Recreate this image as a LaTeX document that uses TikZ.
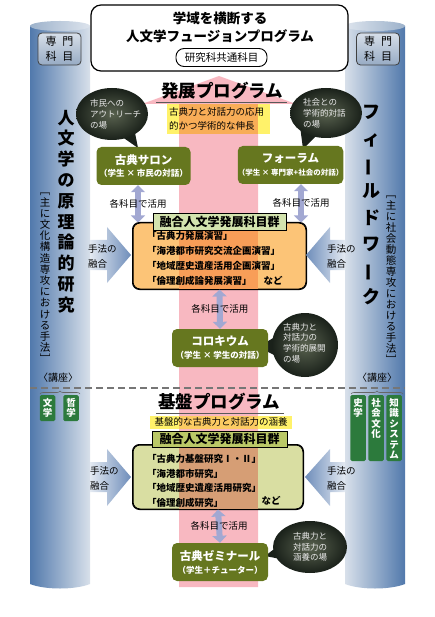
\documentclass[tikz,border=0pt]{standalone}
\usepackage{fontspec}
\setmainfont{Noto Sans CJK JP}
\usepackage{graphicx}
\usetikzlibrary{arrows.meta,decorations.pathreplacing}
\definecolor{coldark}{HTML}{5179AC}
\definecolor{collight}{HTML}{D8E0EA}
\definecolor{capdark}{HTML}{9DB2CB}
\definecolor{caplight}{HTML}{DDE4ED}
\definecolor{pinkarrow}{HTML}{F8B8C1}
\definecolor{olive}{HTML}{66771F}
\definecolor{bubin}{HTML}{59624F}
\definecolor{bubout}{HTML}{1A211A}
\definecolor{yel}{HTML}{FFF26A}
\definecolor{yelpink}{HTML}{F8AD57}
\definecolor{yelpinklow}{HTML}{FBCB62}
\definecolor{orgbox}{HTML}{FCC477}
\definecolor{orgpink}{HTML}{F89E58}
\definecolor{olvbox}{HTML}{D9DEA2}
\definecolor{olvpink}{HTML}{D69E75}
\definecolor{tabup}{HTML}{D3E3AE}
\definecolor{tablow}{HTML}{BAC867}
\definecolor{tagg}{HTML}{2C7A3C}
\definecolor{dblc}{HTML}{A2A8D2}
\definecolor{chevdark}{HTML}{6E8DBA}
\definecolor{chevlight}{HTML}{E4EAF2}
\definecolor{sepgray}{HTML}{767676}
\definecolor{sentop}{HTML}{D7DFE9}
\definecolor{senbot}{HTML}{97ABC4}
\newcommand\olvsub{\bfseries\fontsize{8.5}{10}\selectfont}
\tikzset{
  toptxt/.style={font=\bfseries\fontsize{13.5}{16}\selectfont, inner sep=0pt},
  senbox/.style={draw=black!75, line width=.8pt, rounded corners=4pt, top color=sentop, bottom color=senbot,
    minimum width=43pt, minimum height=32pt, align=center, inner sep=0pt, font=\fontsize{11}{15}\selectfont},
  head/.style={font=\bfseries\fontsize{17.5}{20}\selectfont, inner sep=0pt},
  olivebox/.style={fill=olive, rounded corners=5pt, minimum width=94pt, minimum height=38pt, text=white,
    font=\bfseries\fontsize{11.5}{15}\selectfont, align=center, inner sep=0pt},
  bubble/.style={inner color=bubin, outer color=bubout},
  bubtxt/.style={text=white!92!black, font=\fontsize{8.5}{11}\selectfont, align=left, inner sep=0pt},
  vbig/.style={font=\bfseries\fontsize{17}{20.8}\selectfont, align=center, inner sep=0pt},
  vsmall/.style={font=\fontsize{10.5}{11.2}\selectfont, align=center, inner sep=0pt},
  tag/.style={fill=tagg, rounded corners=1.5pt, minimum width=15.5pt, inner sep=0pt},
  tagtxt/.style={text=white, font=\bfseries\fontsize{9.5}{10.5}\selectfont, align=center, inner sep=0pt},
  dbl/.style={draw=dblc, line width=6pt, {Triangle[width=14pt,length=7pt]}-{Triangle[width=14pt,length=7pt]}},
  uselab/.style={font=\fontsize{9.5}{11}\selectfont, inner sep=1pt},
  listtxt/.style={font=\bfseries\fontsize{9.5}{15}\selectfont, align=left, inner sep=0pt, anchor=west},
  mixtxt/.style={font=\fontsize{9.5}{15}\selectfont, align=left, inner sep=0pt, anchor=west},
  lab/.style={font=\fontsize{10}{12}\selectfont, inner sep=0pt},
  tabbox/.style={draw, line width=1pt, minimum height=17pt, inner sep=0pt, font=\bfseries\fontsize{12}{14}\selectfont},
}
\begin{document}
\begin{tikzpicture}[x=1pt,y=-1pt]
  \useasboundingbox (0,0) rectangle (435,617);

  % side columns
  \shade[left color=coldark, right color=collight] (30,26) -- (30,584) .. controls (45,590) and (75,590) .. (90,584) -- (90,26) -- cycle;
  \shade[left color=capdark, right color=caplight] (60,26) ellipse [x radius=30pt, y radius=5pt];
  \shade[left color=collight, right color=coldark] (345,26) -- (345,584) .. controls (360,590) and (390,590) .. (405,584) -- (405,26) -- cycle;
  \shade[left color=caplight, right color=capdark] (375,26) ellipse [x radius=30pt, y radius=5pt];

  % pink arrow behind everything
  \fill[pinkarrow] (219,76) -- (296,104) -- (258,104) -- (258,587) -- (179,587) -- (179,104) -- (142,104) -- cycle;

  % top box
  \node[draw, line width=1.2pt, rounded corners=10pt, fill=white, minimum width=257pt, minimum height=66pt, inner sep=0pt] (topbox) at (219.5,38) {};
  \node[toptxt] (toptitle) at (220,18) {学域を横断する};
  \node[toptxt] (topname) at (220,36) {人文学フュージョンプログラム};
  \node[draw, line width=.9pt, rounded corners=8pt, minimum width=91pt, minimum height=18pt, inner sep=0pt,
    font=\fontsize{10.5}{12}\selectfont] (common) at (221.5,57.5) {研究科共通科目};

  \node[senbox] (senL) at (59.5,49) {専\hspace{6pt}門\\科\hspace{6pt}目};
  \node[senbox] (senR) at (378,49) {専\hspace{6pt}門\\科\hspace{6pt}目};

  % column texts
  \node[vbig] (leftname) at (66,211.5) {人\\文\\学\\の\\原\\理\\論\\的\\研\\究};
  \node[vsmall] (leftnote) at (45,275) {\rotatebox[origin=c]{-90}{［}\\主\\に\\文\\化\\構\\造\\専\\攻\\に\\お\\け\\る\\手\\法\\\rotatebox[origin=c]{-90}{］}};
  \node[vbig, font=\bfseries\fontsize{18}{26.3}\selectfont] (rightname) at (371,205) {フ\\ィ\\\rotatebox[origin=c]{90}{ー}\\ル\\ド\\ワ\\\rotatebox[origin=c]{90}{ー}\\ク};
  \node[vsmall, font=\fontsize{10.5}{11.07}\selectfont] (rightnote) at (391,277) {\rotatebox[origin=c]{-90}{［}\\主\\に\\社\\会\\動\\態\\専\\攻\\に\\お\\け\\る\\手\\法\\\rotatebox[origin=c]{-90}{］}};

  % development program
  \node[head] (devhead) at (222,91) {発展プログラム};
  \draw[black!65, line width=.8pt] (156,102) -- (287,102);
  \node[fill=yel, minimum width=103pt, minimum height=30pt, inner sep=0pt] (goalU) at (218.5,119) {};
  \fill[yelpink] (179,104) rectangle (258,134);
  \node[font=\fontsize{9.5}{14}\selectfont, align=left, inner sep=0pt, anchor=west] (goalUtxt) at (169,119) {古典力と対話力の応用\\的かつ学術的な伸長};

  % bubbles
  \fill[bubout] (118,134) -- (138,148) -- (134,128) -- cycle;
  \shade[bubble] (112,114) ellipse [x radius=36pt, y radius=26pt];
  \node[bubtxt, anchor=west] (bubsalon) at (90,114) {市民への\\アウトリーチ\\の場};
  \fill[bubout] (300,126) -- (303,149) -- (318,134) -- cycle;
  \shade[bubble] (326,113) ellipse [x radius=36pt, y radius=25pt];
  \node[bubtxt, anchor=west] (bubforum) at (303,113) {社会との\\学術的対話\\の場};

  % dialogue boxes
  \node[olivebox] (salon) at (143.5,166) {古典サロン\\[-2pt]{\olvsub （学生 × 市民の対話）}};
  \node[olivebox] (forum) at (290.5,165) {フォーラム\\[-2pt]{\olvsub\fontsize{7.5}{9}\selectfont （学生 × 専門家+社会の対話）}};

  % fusion courses (development)
  \node[draw, line width=1pt, fill=orgbox, rounded corners=7pt, minimum width=173pt, minimum height=66pt, inner sep=0pt] (fusionU) at (219.5,256) {};
  \begin{scope}
    \clip[rounded corners=7pt] (fusionU.north west) rectangle (fusionU.south east);
    \fill[orgpink] (179,200) rectangle (258,300);
  \end{scope}
  \draw[line width=1pt, rounded corners=7pt] (fusionU.north west) rectangle (fusionU.south east);
  \node[tabbox, fill=tabup, minimum width=133pt] (tabU) at (219.5,222) {融合人文学発展科目群};
  \node[listtxt] (listU) at (147,258.5) {「古典力発展演習」\\「海港都市研究交流企画演習」\\「地域歴史遺産活用企画演習」\\「倫理創成論発展演習」};
  \node[lab, font=\bfseries\fontsize{9.5}{11}\selectfont] (etcU) at (273,281) {など};

  % use in each course
  \coordinate (useLx) at (138,0);
  \coordinate (useRx) at (301,0);
  \draw[dbl] (salon.south -| useLx) -- node[uselab] (useL) {各科目で活用} (fusionU.north -| useLx);
  \draw[dbl] (forum.south -| useRx) -- node[uselab] (useR) {各科目で活用} (fusionU.north -| useRx);

  % colloquium
  \fill[bubout] (258,347) -- (280,334) -- (278,357) -- cycle;
  \shade[bubble] (305,345) ellipse [x radius=33pt, y radius=32pt];
  \node[bubtxt, font=\fontsize{8.5}{10.7}\selectfont, anchor=west] (bubcolloq) at (283,343) {古典力と\\対話力の\\学術的展開\\の場};
  \node[olivebox, minimum width=96pt] (colloq) at (220,348) {コロキウム\\[-2pt]{\olvsub （学生 × 学生の対話）}};
  \draw[dbl] (fusionU.south) -- node[uselab] (useM) {各科目で活用} (colloq.north);

  % method arrows
  \shade[left color=chevlight, right color=chevdark] (90,240) -- (107,240) -- (107,227) -- (131,255) -- (107,283) -- (107,270) -- (90,270) -- cycle;
  \shade[left color=chevdark, right color=chevlight] (345,240) -- (330,240) -- (330,227) -- (306,255) -- (330,283) -- (330,270) -- (345,270) -- cycle;
  \shade[left color=chevlight, right color=chevdark] (90,462) -- (107,462) -- (107,449) -- (131,477) -- (107,506) -- (107,492) -- (90,492) -- cycle;
  \shade[left color=chevdark, right color=chevlight] (345,462) -- (330,462) -- (330,449) -- (305,477) -- (330,506) -- (330,492) -- (345,492) -- cycle;
  \node[mixtxt] (mixUL) at (88,256) {手法の\\融合};
  \node[mixtxt] (mixUR) at (327,256) {手法の\\融合};
  \node[mixtxt] (mixLL) at (90,478.5) {手法の\\融合};
  \node[mixtxt] (mixLR) at (327,478.5) {手法の\\融合};

  % divider and chairs
  \draw[sepgray, line width=1.5pt, dash pattern=on 7pt off 4pt] (30,388) -- (405,388);
  \node[lab] (chairL) at (58,378) {〈講座〉};
  \node[lab] (chairR) at (377,378) {〈講座〉};
  \draw[black!60, line width=.6pt, decorate, decoration={brace, amplitude=3pt}] (40,394) -- (80,394);
  \draw[black!60, line width=.6pt, decorate, decoration={brace, amplitude=3pt}] (351,394) -- (403,394);
  \node[tag, minimum height=26pt] (tagLit) at (47.5,408) {};
  \node[tag, minimum height=26pt] (tagPhil) at (71,408) {};
  \node[tagtxt] (tagLitT) at (tagLit) {文\\学};
  \node[tagtxt] (tagPhilT) at (tagPhil) {哲\\学};
  \node[tag, minimum height=66pt] (tagHist) at (358,428) {};
  \node[tag, minimum height=66pt] (tagSoc) at (376,428) {};
  \node[tag, minimum height=66pt] (tagKnow) at (394,428) {};
  \node[tagtxt, anchor=north] (tagHistT) at ([yshift=-3pt]tagHist.north) {史\\学};
  \node[tagtxt, anchor=north] (tagSocT) at ([yshift=-3pt]tagSoc.north) {社\\会\\文\\化};
  \node[tagtxt, anchor=north] (tagKnowT) at ([yshift=-3pt]tagKnow.north) {知\\識\\シ\\ス\\テ\\ム};

  % basic program
  \node[head] (basehead) at (219,402) {基盤プログラム};
  \draw[black!65, line width=.8pt] (156,413) -- (284,413);
  \node[fill=yel, minimum width=142pt, minimum height=13pt, inner sep=0pt] (goalL) at (221,422) {};
  \fill[yelpinklow] (179,415.5) rectangle (258,428.5);
  \node[font=\fontsize{9.5}{11}\selectfont, inner sep=0pt] (goalLtxt) at (221,422) {基盤的な古典力と対話力の涵養};

  \node[draw, line width=1pt, fill=olvbox, rounded corners=7pt, minimum width=170pt, minimum height=64pt, inner sep=0pt] (fusionL) at (218,477) {};
  \begin{scope}
    \clip[rounded corners=7pt] (fusionL.north west) rectangle (fusionL.south east);
    \fill[olvpink] (179,440) rectangle (258,520);
  \end{scope}
  \draw[line width=1pt, rounded corners=7pt] (fusionL.north west) rectangle (fusionL.south east);
  \node[tabbox, fill=tablow, minimum width=135pt, minimum height=16pt] (tabL) at (219.5,439) {融合人文学発展科目群};
  \node[listtxt, font=\bfseries\fontsize{9.5}{14.5}\selectfont] (listL) at (147,481) {「古典力基盤研究Ⅰ・Ⅱ」\\「海港都市研究」\\「地域歴史遺産活用研究」\\「倫理創成研究」};
  \node[lab, font=\bfseries\fontsize{9.5}{11}\selectfont] (etcL) at (271,501) {など};

  % seminar
  \fill[bubout] (265,556) -- (282,543) -- (286,560) -- cycle;
  \shade[bubble] (310,547) ellipse [x radius=37pt, y radius=26pt];
  \node[bubtxt, align=center, font=\fontsize{8.5}{10.5}\selectfont] (bubsem) at (310,547) {古典力と\\対話力の\\涵養の場};
  \node[olivebox, minimum width=96pt] (seminar) at (220,562) {古典ゼミナール\\[-2pt]{\olvsub （学生＋チューター）}};
  \draw[dbl] (fusionL.south) -- node[uselab] (useB) {各科目で活用} (seminar.north);
\end{tikzpicture}
\end{document}
